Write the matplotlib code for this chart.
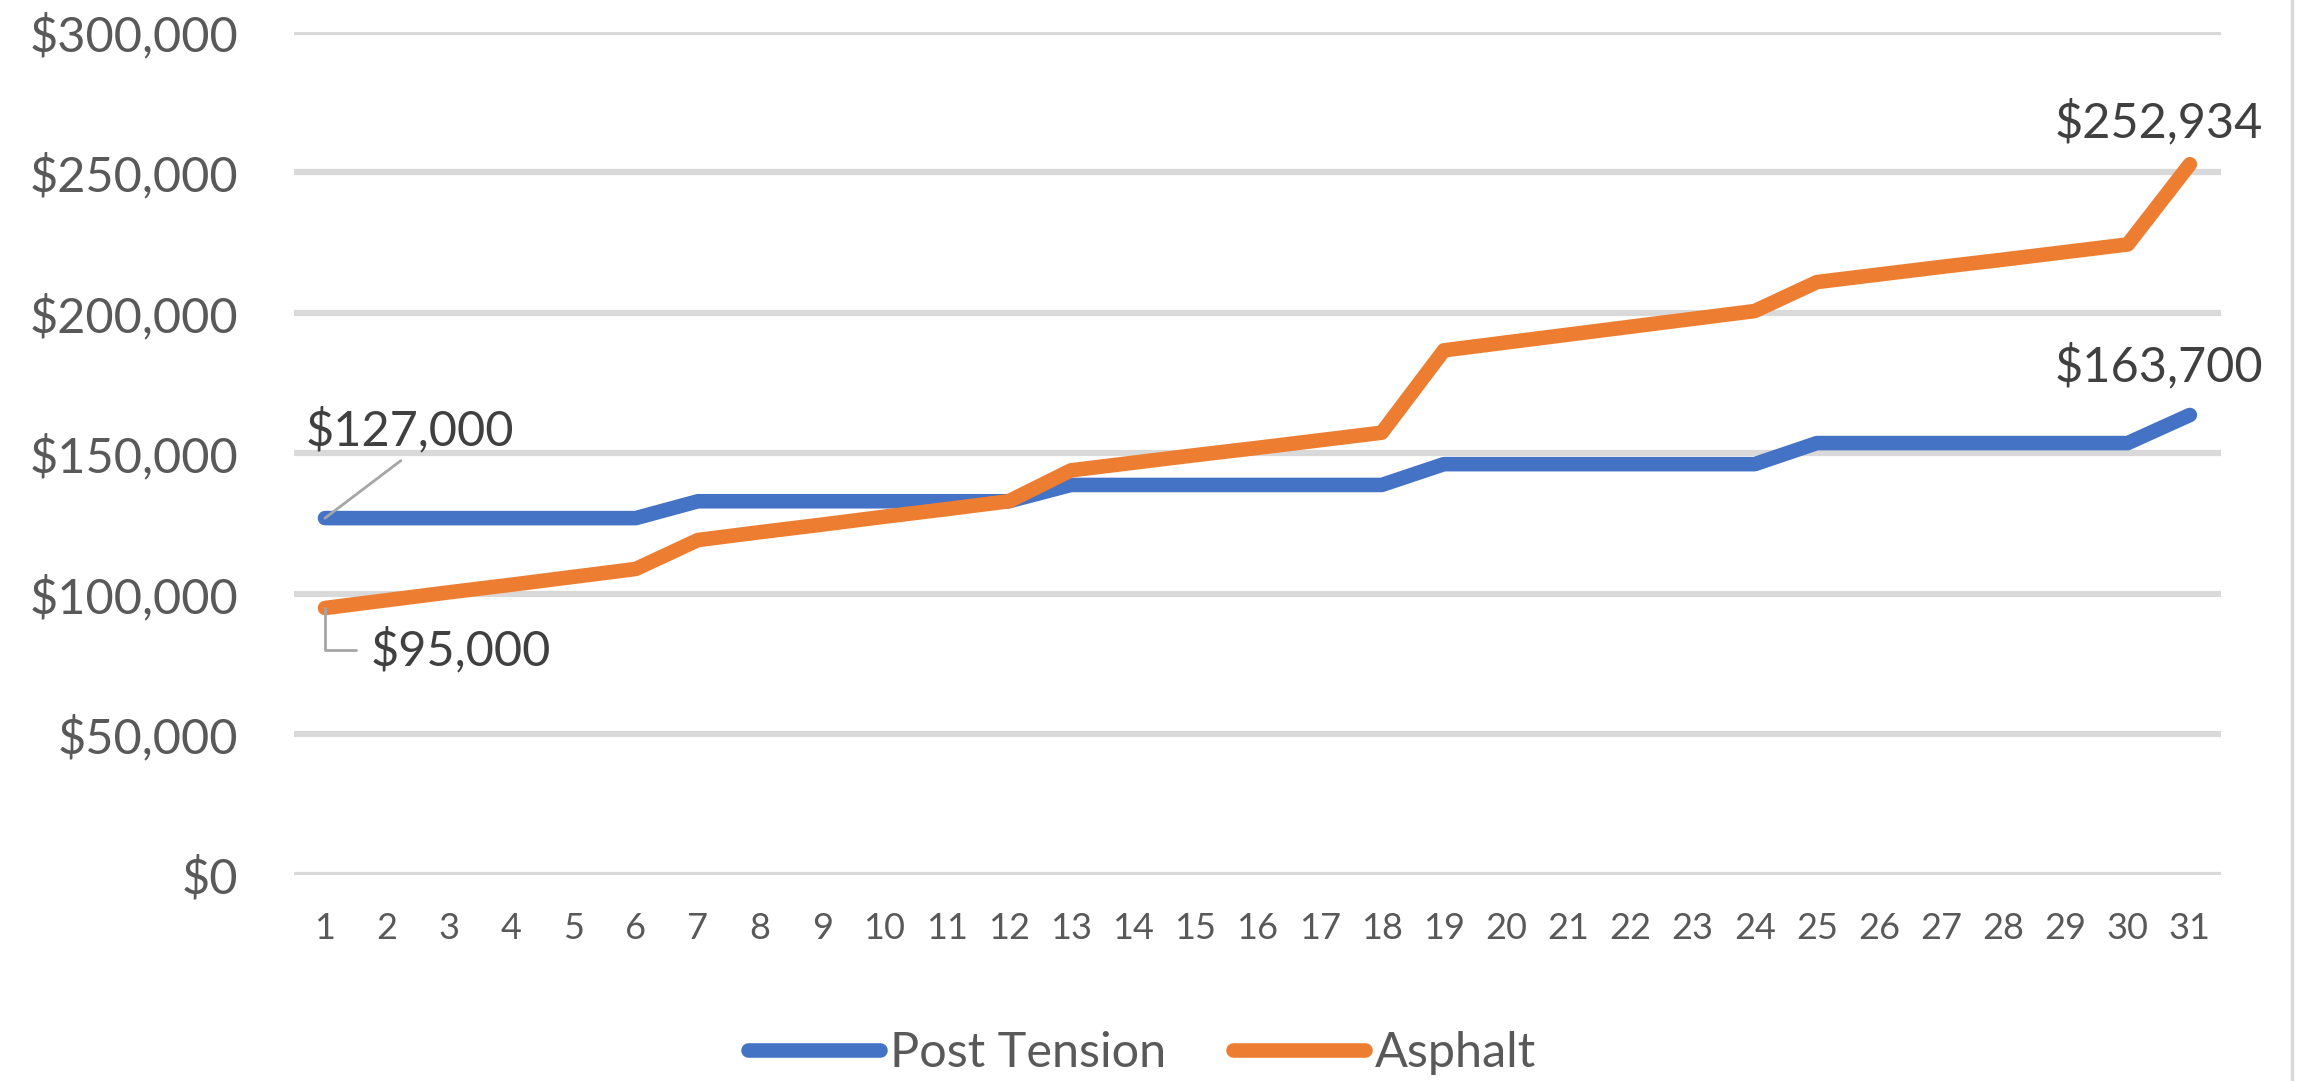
"""
plot.py
-------
Cumulative cost over 31 years: post tension slab vs asphalt paving.
Saves out.png (2307x1081).
"""

import matplotlib
matplotlib.use("Agg")
import matplotlib.pyplot as plt
from matplotlib.ticker import FuncFormatter

YEARS = list(range(1, 32))

POST_TENSION = [
    127000, 127000, 127000, 127000, 127000, 127000,
    133000, 133000, 133000, 133000, 133000, 133000,
    138800, 138800, 138800, 138800, 138800, 138800,
    146200, 146200, 146200, 146200, 146200, 146200,
    153700, 153700, 153700, 153700, 153700, 153700,
    163700,
]

ASPHALT = [
    95000, 97800, 100600, 103300, 106100, 108900,
    119200, 122000, 124700, 127500, 130200, 133000,
    144000, 146700, 149400, 152000, 154700, 157400,
    186700, 189500, 192300, 195100, 197900, 200700,
    211000, 213700, 216400, 219000, 221700, 224400,
    252934,
]

SERIES_NAMES = ["Post Tension", "Asphalt"]
Y_TICKS = [0, 50000, 100000, 150000, 200000, 250000, 300000]

BLUE = "#4472C4"
ORANGE = "#ED7D31"
GRID = "#D9D9D9"
TICK_COLOR = "#595959"
LABEL_COLOR = "#404040"
LEADER = "#A6A6A6"


def money(v, _pos=None):
    return f"${v:,.0f}"


def main():
    plt.rcParams["font.family"] = ["Lato", "DejaVu Sans"]

    fig = plt.figure(figsize=(23.07, 10.81), dpi=100)
    ax = fig.add_axes([0.1274, 0.1906, 0.8353, 0.7798])

    # --- series ---
    ax.plot(YEARS, POST_TENSION, color=BLUE, lw=10.5, solid_capstyle="round",
            solid_joinstyle="round", label=SERIES_NAMES[0], zorder=3)
    ax.plot(YEARS, ASPHALT, color=ORANGE, lw=10.5, solid_capstyle="round",
            solid_joinstyle="round", label=SERIES_NAMES[1], zorder=3)

    # --- axes styling (Excel look) ---
    ax.set_xlim(0.5, 31.5)
    ax.set_ylim(0, 300000)
    ax.set_yticks(Y_TICKS)
    ax.yaxis.set_major_formatter(FuncFormatter(money))
    ax.set_xticks(YEARS)
    ax.set_xticklabels([str(y) for y in YEARS])
    for s in ax.spines.values():
        s.set_visible(False)
    ax.grid(axis="y", color=GRID, lw=4.5, zorder=0)
    ax.set_axisbelow(True)
    ax.tick_params(axis="y", length=0, pad=40, labelsize=35, labelcolor=TICK_COLOR)
    ax.tick_params(axis="x", length=0, pad=27, labelsize=26, labelcolor=TICK_COLOR)

    # --- data labels ---
    arrow = dict(arrowstyle="-", color=LEADER, lw=2, patchA=None, shrinkB=0)
    ax.annotate(money(POST_TENSION[0]), xy=(YEARS[0], POST_TENSION[0]),
                xytext=(61, 63), textcoords="offset points", ha="center", va="center",
                fontsize=35, color=LABEL_COLOR,
                arrowprops=dict(arrow, relpos=(0.5, 0), shrinkA=8))
    ax.annotate(money(ASPHALT[0]), xy=(YEARS[0], ASPHALT[0]),
                xytext=(33, -30), textcoords="offset points", ha="left", va="center",
                fontsize=35, color=LABEL_COLOR,
                arrowprops=dict(arrow, relpos=(0, 0.5), shrinkA=11,
                                connectionstyle="angle,angleA=0,angleB=90,rad=0"))
    ax.annotate(money(ASPHALT[-1]), xy=(YEARS[-1], ASPHALT[-1]),
                xytext=(-22, 30), textcoords="offset points", ha="center", va="center",
                fontsize=35, color=LABEL_COLOR)
    ax.annotate(money(POST_TENSION[-1]), xy=(YEARS[-1], POST_TENSION[-1]),
                xytext=(-22, 35), textcoords="offset points", ha="center", va="center",
                fontsize=35, color=LABEL_COLOR)

    # --- legend ---
    fig.legend(loc="center", bbox_to_anchor=(0.495, 0.026), ncol=2, frameon=False,
               fontsize=35, labelcolor=TICK_COLOR, handlelength=2.73,
               handletextpad=0.2, columnspacing=1.37)

    # chart-area border on the right edge
    fig.add_artist(plt.Line2D([0.9935, 0.9935], [0, 1], transform=fig.transFigure,
                              color=GRID, lw=2.5))

    fig.savefig("out.png", dpi=100)
    plt.close(fig)


if __name__ == "__main__":
    main()
